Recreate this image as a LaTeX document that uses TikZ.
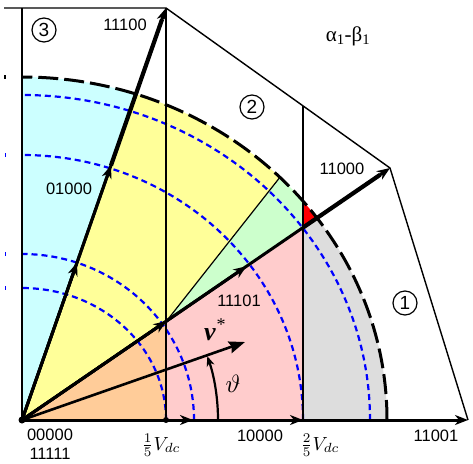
\documentclass[tikz,border=0pt]{standalone}
\usepackage{graphicx}
\usepackage{fontspec}
\setmainfont{Liberation Sans}
\newfontfamily\serifrm{Liberation Serif}
\usetikzlibrary{arrows.meta,calc}
\definecolor{fillcyan}{HTML}{CCFFFF}
\definecolor{fillyellow}{HTML}{FFFF99}
\definecolor{fillgreen}{HTML}{CCFFCC}
\definecolor{fillorange}{HTML}{FFCC99}
\definecolor{fillpink}{HTML}{FFCCCC}
\definecolor{fillgray}{HTML}{DDDDDD}
\definecolor{fillred}{HTML}{FF0000}
\definecolor{circblue}{HTML}{0000FF}
\tikzset{
  edge/.style={draw=black,line width=1.4pt},
  vec/.style={draw=black,line width=3pt,-{Stealth[length=13pt,width=10pt,inset=4pt]}},
  vecouter/.style={draw=black,line width=4.2pt},
  circleblue/.style={draw=circblue,line width=2.2pt,dash pattern=on 6pt off 4pt},
  circleblack/.style={draw=black,line width=3pt,dash pattern=on 20pt off 6pt},
  code/.style={font=\fontsize{16.5}{18}\selectfont,inner sep=0pt},
  region/.style={draw,circle,line width=1.2pt,minimum size=24pt,inner sep=0pt,
    font=\fontsize{19}{19}\selectfont},
  vdc/.style={inner sep=0pt,anchor=base}
}

\begin{document}
\begin{tikzpicture}[x=1pt,y=-1pt]
  \useasboundingbox (0,0) rectangle (473,463);
  % vertices and vector tips
  \coordinate (O) at (22,420);
  \coordinate (V0) at (468,420);
  \coordinate (M0) at (303,420);
  \coordinate (S0) at (193,420);
  \coordinate (D1) at (166,420);
  \coordinate (V36) at (390,168);
  \coordinate (M36) at ($(O)!0.61!(V36)$);
  \coordinate (S36) at ($(O)!0.3927!(V36)$);
  \coordinate (B36) at ($(O)!0.7636!(V36)$);
  \coordinate (V72) at (166,8);
  \coordinate (M72) at ($(O)!0.618!(V72)$);
  \coordinate (S72) at ($(O)!0.382!(V72)$);
  \coordinate (E2) at (303,106);
  \coordinate (P2) at (303,148);

  % coloured sectors inside the limit circle
  \begin{scope}
    \clip (O) ellipse [x radius=365,y radius=343];
    \fill[fillcyan] (O) -- (22,8) -- (V72) -- cycle;
    \fill[fillyellow] (O) -- (V72) -- (E2) -- (P2) -- (S36) -- cycle;
    \fill[fillgreen] (S36) -- (P2) -- (B36) -- cycle;
    \fill[fillred] (B36) -- (E2) -- (V36) -- cycle;
    \fill[fillgray] (M0) -- (B36) -- (V36) -- (V0) -- cycle;
    \fill[fillpink] (D1) -- (S36) -- (B36) -- (M0) -- cycle;
    \fill[fillorange] (O) -- (S36) -- (D1) -- cycle;
    \draw[line width=1.2pt] (S36) -- (P2);
  \end{scope}

  % circles of constant amplitude
  \foreach \rx/\ry in {144/132,172/166,281/265,348/325}
    \draw[circleblue] (O) ++(\rx,0) arc[start angle=0,end angle=-90,x radius=\rx,y radius=\ry];
  \draw[circleblack] (O) ++(365,0) arc[start angle=0,end angle=-90,x radius=365,y radius=343];
  \draw[line width=1.5pt] (5,75) -- (5,79);
  \foreach \ty in {155,254,288}
    \draw[circblue,line width=1pt] (5,\ty-2) -- (5,\ty+2);

  % sector boundary
  \draw[edge] (4,8) -- (V72) -- (V36) -- (V0);
  \draw[edge] (22,8) -- (O);
  \draw[edge] (V72) -- (D1);
  \draw[edge] (E2) -- (M0);

  % switching vectors
  \foreach \dir in {0,36,72} {
    \draw[vec] (O) -- (S\dir);
    \draw[vec] (O) -- (M\dir);
    \draw[vec] (O) -- (V\dir);
  }
  \draw[vecouter] (M72) -- ($(V72)!12pt!(M72)$);
  \draw[vecouter] (B36) -- ($(V36)!12pt!(B36)$);
  \fill (O) circle (3.5);
  \fill (D1) circle (3);

  % reference vector
  \coordinate (Vref) at (245,342);
  \draw[line width=2.6pt,-{Stealth[length=16pt,width=12pt,inset=2pt]}] (O) -- (Vref);
  \draw[line width=2.2pt,-{Stealth[length=10pt,width=8pt,inset=3pt]}] (O) ++(196,0) arc[start angle=0,end angle=-19,radius=196];

  % labels
  \node[region] (r3) at (44,30) {3};
  \node[region] (r2) at (252,107) {2};
  \node[region] (r1) at (405,303) {1};
  \node[font=\serifrm\fontsize{21}{21}\selectfont,anchor=base,inner sep=0pt] (frame) at (348,41) {α\textsubscript{1}-β\textsubscript{1}};
  \node[code] (l11100) at (125,25) {11100};
  \node[code] (l01000) at (69,189) {01000};
  \node[code] (l11000) at (342,169) {11000};
  \node[code] (l11101) at (239,301) {11101};
  \node[code] (l00000) at (50,435) {00000};
  \node[code] (l11111) at (50,454) {11111};
  \node[code] (l10000) at (260,436) {10000};
  \node[code] (l11001) at (436,436) {11001};
  \node[vdc] (fifth) at (161,450) {\scalebox{1.9}{$\frac{1}{5}V_{dc}$}};
  \node[vdc] (twofifth) at (320,450) {\scalebox{1.9}{$\frac{2}{5}V_{dc}$}};
  \node[font=\serifrm\fontsize{26}{26}\selectfont\bfseries\itshape,anchor=base west,inner sep=0pt] (vstar) at (204,340) {v\hspace{1pt}\raisebox{10pt}{\fontsize{18}{18}\selectfont\upshape\mdseries *}};
  \node[inner sep=0pt] (theta) at (233,384) {\scalebox{2.5}{$\vartheta$}};
\end{tikzpicture}
\end{document}
